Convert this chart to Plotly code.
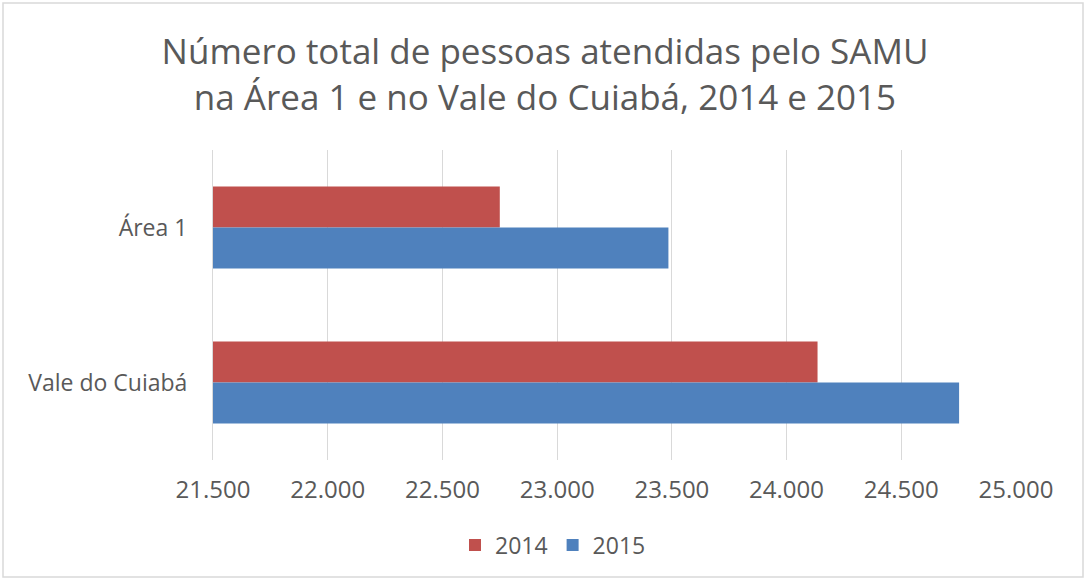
import plotly.graph_objects as go

categories = ["Área 1", "Vale do Cuiabá"]
values_2014 = [22750, 24135]
values_2015 = [23485, 24752]
tick_vals = [21500, 22000, 22500, 23000, 23500, 24000, 24500, 25000]
tick_text = ["21.500", "22.000", "22.500", "23.000", "23.500", "24.000", "24.500", "25.000"]

FONT = "Open Sans"
base = 21500

fig = go.Figure()
fig.add_trace(go.Bar(
    y=categories, x=[v - base for v in values_2014], base=base, orientation="h",
    name="2014", marker=dict(color="#C0504D", line=dict(width=0)),
))
fig.add_trace(go.Bar(
    y=categories, x=[v - base for v in values_2015], base=base, orientation="h",
    name="2015", marker=dict(color="#4F81BD", line=dict(width=0)),
))

fig.update_layout(
    width=1087, height=580,
    margin=dict(l=213, r=71, t=150, b=120),
    paper_bgcolor="white", plot_bgcolor="white",
    barmode="group", bargap=0.47, bargroupgap=0,
    title=dict(
        text="Número total de pessoas atendidas pelo SAMU<br>na Área 1 e no Vale do Cuiabá, 2014 e 2015",
        x=545 / 1087, xanchor="center", y=1 - 64 / 580, yanchor="middle",
        font=dict(family=FONT, size=35, color="#595959"),
    ),
    xaxis=dict(
        range=[21500, 25000], tickvals=tick_vals, ticktext=tick_text,
        showgrid=True, gridcolor="#D9D9D9", gridwidth=1,
        zeroline=False, showline=False, ticks="",
        ticklabelstandoff=13,
        tickfont=dict(family=FONT, size=24, color="#595959"),
    ),
    yaxis=dict(
        autorange="reversed", showgrid=False, zeroline=False,
        showline=True, linecolor="#D9D9D9", ticks="",
        ticklabelstandoff=20,
        tickfont=dict(family=FONT, size=23, color="#595959"),
    ),
    legend=dict(
        orientation="h", xref="container", x=553 / 1087, xanchor="center",
        yref="container", y=1 - 545 / 580, yanchor="middle",
        font=dict(family=FONT, size=23, color="#595959"),
        itemwidth=30,
    ),
    shapes=[dict(
        type="rect", xref="paper", yref="paper",
        x0=(3 - 213) / 803, x1=(1083 - 213) / 803,
        y0=-(577 - 460) / 310, y1=1 + (150 - 3) / 310,
        line=dict(color="#D9D9D9", width=1.5), fillcolor="rgba(0,0,0,0)",
        layer="below",
    )],
)

fig.write_html("out.html", config={"displayModeBar": False},
               post_script="document.body.style.margin='0';")
